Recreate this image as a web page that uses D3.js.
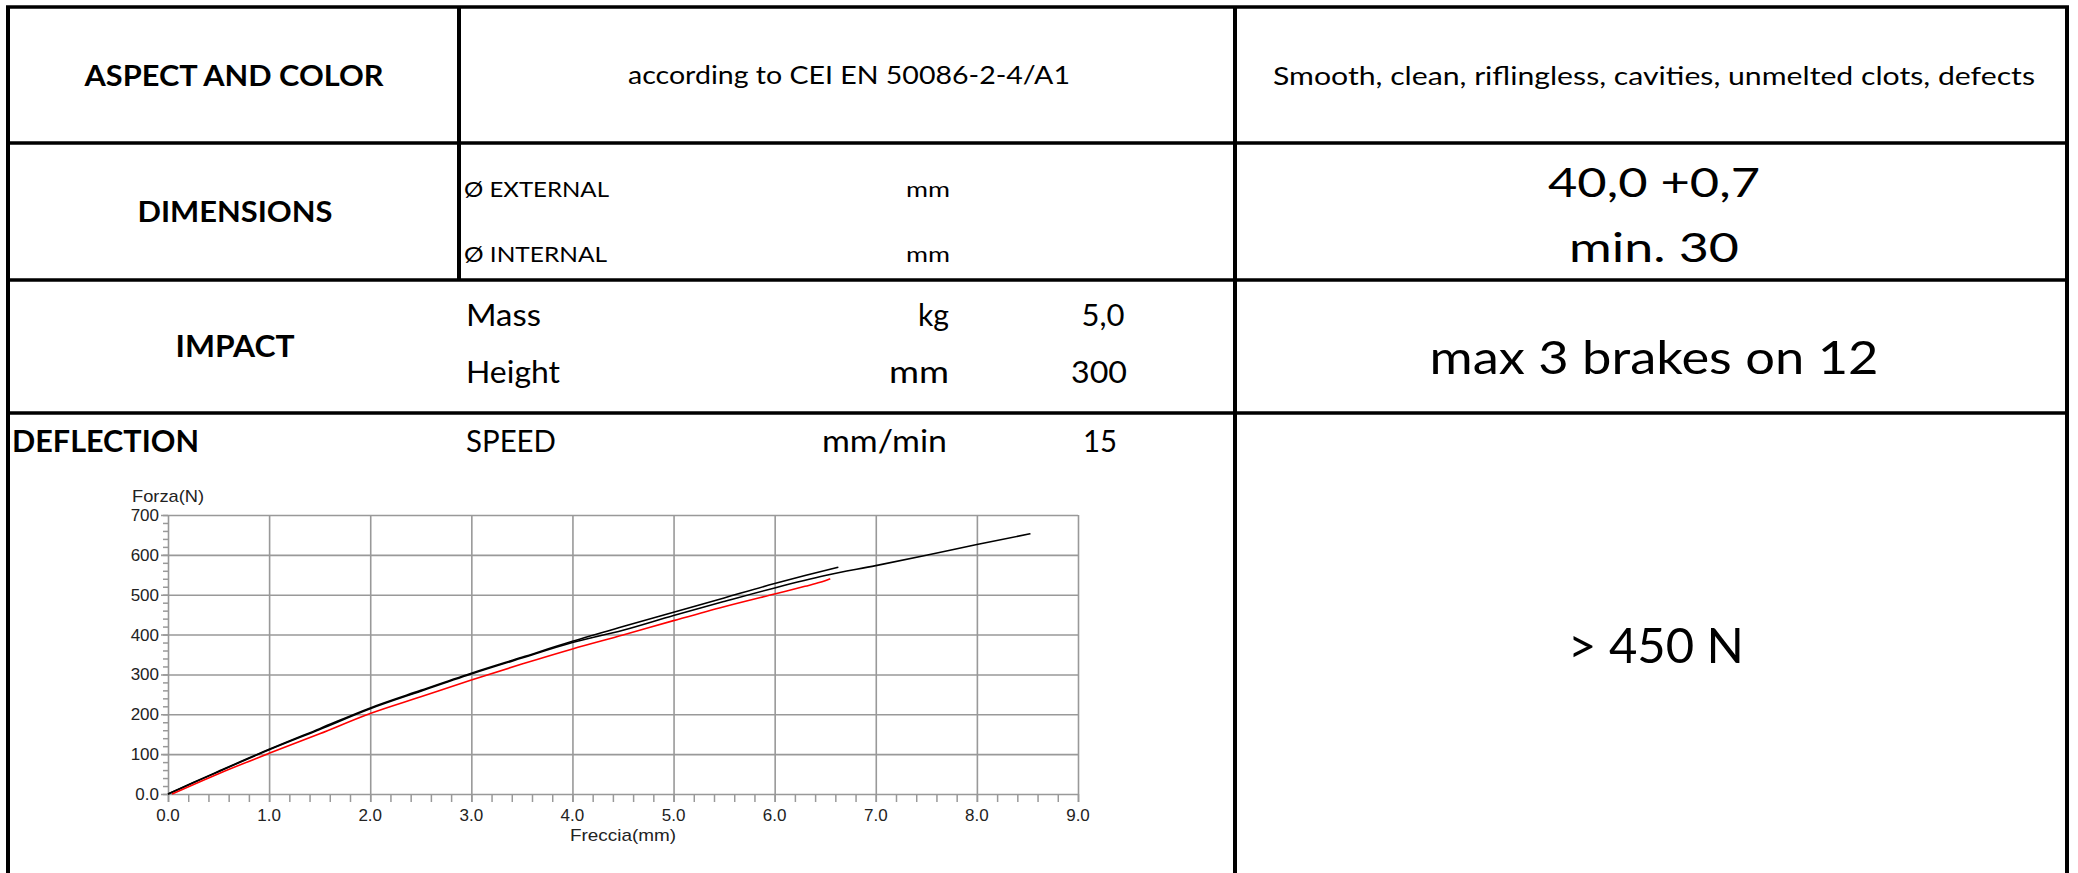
<!DOCTYPE html>
<html>
<head>
<meta charset="utf-8">
<script src="https://cdn.jsdelivr.net/npm/d3@7"></script>
<style>
	html, body { margin: 0; padding: 0; background: #fff; }
	svg { display: block; }
	.cell { font-family: Lato, "Carlito", "Open Sans", sans-serif; fill: #000; }
	.plot text { font-family: "Liberation Sans", Arial, sans-serif; fill: #222; font-size: 17px; }
</style>
</head>
<body>
<div id="sheet"></div>
<script>
/* Testi della tabella */
const sectionLabels = ["ASPECT AND COLOR", "DIMENSIONS", "IMPACT", "DEFLECTION"];
const aspectSpec = "according to CEI EN 50086-2-4/A1";
const paramNames = ["Ø EXTERNAL", "Ø INTERNAL", "Mass", "Height", "SPEED"];
const paramUnits = ["mm", "mm", "kg", "mm", "mm/min"];
const paramValues = ["", "", "5,0", "300", "15"];
const requirements = [
	"Smooth, clean, riflingless, cavities, unmelted clots, defects",
	"40,0 +0,7",
	"min. 30",
	"max 3 brakes on 12",
	"> 450 N"
];

/* Grafico Forza / Freccia */
const xLabel = "Freccia(mm)";
const yLabel = "Forza(N)";
const xTicks = [0, 1, 2, 3, 4, 5, 6, 7, 8, 9];
const yTicks = [0, 100, 200, 300, 400, 500, 600, 700];

const curveAx = [0, 0.25, 0.5, 1.0, 1.5, 2.0, 2.5, 3.0, 3.5, 4.0, 4.5, 5.0, 5.5, 6.0, 6.3, 6.63];
const curveAy = [0, 29, 57, 112, 164, 216, 260, 303, 343, 383, 420, 456, 492, 528, 548, 569];
const curveBx = [0, 0.25, 0.5, 1.0, 1.5, 2.0, 2.5, 3.0, 3.5, 4.0, 4.5, 5.0, 5.5, 6.0, 6.5, 7.0, 7.5, 8.0, 8.53];
const curveBy = [0, 28, 56, 111, 162, 214, 258, 301, 341, 380, 411, 448, 483, 517, 548, 573, 599, 626, 653];
const curveCx = [0.04, 0.5, 1.0, 1.5, 2.0, 2.5, 3.0, 3.5, 4.0, 4.5, 5.0, 5.5, 6.0, 6.3, 6.45, 6.55];
const curveCy = [0, 51, 102, 151, 202, 244, 286, 326, 364, 399, 435, 470, 502, 521, 531, 540];

const W = 2078, H = 873;
const svg = d3.select("#sheet").append("svg").attr("width", W).attr("height", H);
svg.append("rect").attr("width", W).attr("height", H).attr("fill", "#fff");

/* Griglia della tabella */
const T = { left: 8, right: 2067, rows: [7, 143, 280, 413], col1: 459, col2: 1235, bottom: 880 };
const grid = svg.append("g").attr("stroke", "#000");
T.rows.forEach(y => grid.append("line").attr("x1", T.left - 2).attr("x2", T.right + 2).attr("y1", y).attr("y2", y).attr("stroke-width", 3.5));
grid.append("line").attr("x1", T.left).attr("x2", T.left).attr("y1", T.rows[0]).attr("y2", T.bottom).attr("stroke-width", 4);
grid.append("line").attr("x1", T.right).attr("x2", T.right).attr("y1", T.rows[0]).attr("y2", T.bottom).attr("stroke-width", 4);
grid.append("line").attr("x1", T.col2).attr("x2", T.col2).attr("y1", T.rows[0]).attr("y2", T.bottom).attr("stroke-width", 4);
grid.append("line").attr("x1", T.col1).attr("x2", T.col1).attr("y1", T.rows[0]).attr("y2", T.rows[2]).attr("stroke-width", 4);

// testo, x, y (baseline), dimensione, grassetto, ancoraggio, larghezza
function cell(txt, x, y, size, bold, anchor, width) {
	const t = svg.append("text").attr("class", "cell")
		.attr("x", x).attr("y", y)
		.attr("font-size", size)
		.attr("font-weight", bold ? 700 : 400)
		.attr("text-anchor", anchor)
		.text(txt);
	if (width) t.attr("textLength", width).attr("lengthAdjust", "spacingAndGlyphs");
	return t;
}

cell(sectionLabels[0], 234, 86, 29, true, "middle", 299);
cell(aspectSpec, 849, 84, 25, false, "middle", 442);
cell(requirements[0], 1654, 85, 25, false, "middle", 762);

cell(sectionLabels[1], 235, 222, 29, true, "middle", 195);
cell(paramNames[0], 464, 197, 21, false, "start", 145);
cell(paramUnits[0], 906, 197, 21, false, "start", 44);
cell(paramNames[1], 464, 262, 21, false, "start", 143);
cell(paramUnits[1], 906, 262, 21, false, "start", 44);
cell(requirements[1], 1654, 197, 41, false, "middle", 212);
cell(requirements[2], 1654, 262, 41, false, "middle", 170);

cell(sectionLabels[2], 235, 357, 30, true, "middle", 119);
cell(paramNames[2], 466, 326, 31, false, "start", 75);
cell(paramUnits[2], 949, 326, 31, false, "end", 31);
cell(paramValues[2], 1103, 326, 31, false, "middle", 43);
cell(paramNames[3], 466, 383, 31, false, "start", 94);
cell(paramUnits[3], 949, 383, 31, false, "end", 60);
cell(paramValues[3], 1099, 383, 31, false, "middle", 56);
cell(requirements[3], 1654, 374, 46, false, "middle", 449);

cell(sectionLabels[3], 12, 452, 30, true, "start", 187);
cell(paramNames[4], 466, 452, 31, false, "start", 90);
cell(paramUnits[4], 947, 452, 31, false, "end", 125);
cell(paramValues[4], 1100, 452, 31, false, "middle", 34);
cell(requirements[4], 1656, 663, 49, false, "middle", 176);

/* Grafico */
const P = { left: 168, right: 1078, top: 515, bottom: 794 };
const x = d3.scaleLinear().domain([0, 9]).range([P.left, P.right]);
const y = d3.scaleLinear().domain([0, 700]).range([P.bottom, P.top]);
const plot = svg.append("g").attr("class", "plot");
const gridColor = "#999";

// tacche secondarie
plot.append("g")
	.attr("transform", `translate(0,${P.bottom})`)
	.call(d3.axisBottom(x).tickValues(d3.range(0, 9.01, 0.2)).tickSize(8).tickFormat(""))
	.call(g => g.select(".domain").remove())
	.call(g => g.selectAll("line").attr("stroke", gridColor).attr("stroke-width", 1.5));
plot.append("g")
	.attr("transform", `translate(${P.left},0)`)
	.call(d3.axisLeft(y).tickValues(d3.range(0, 701, 20)).tickSize(5).tickFormat(""))
	.call(g => g.select(".domain").remove())
	.call(g => g.selectAll("line").attr("stroke", gridColor).attr("stroke-width", 1.5));

// griglia principale
plot.append("g")
	.attr("transform", `translate(0,${P.bottom})`)
	.call(d3.axisBottom(x).tickValues(xTicks).tickSize(-(P.bottom - P.top)).tickSizeOuter(0).tickFormat(""))
	.call(g => g.select(".domain").remove())
	.call(g => g.selectAll("line").attr("stroke", gridColor).attr("stroke-width", 1.6).attr("y1", 8));
plot.append("g")
	.attr("transform", `translate(${P.left},0)`)
	.call(d3.axisLeft(y).tickValues(yTicks).tickSize(-(P.right - P.left)).tickSizeOuter(0).tickFormat(""))
	.call(g => g.select(".domain").remove())
	.call(g => g.selectAll("line").attr("stroke", gridColor).attr("stroke-width", 1.6).attr("x1", -7));

// etichette
plot.append("g").selectAll("text").data(xTicks).join("text")
	.attr("x", d => x(d)).attr("y", P.bottom + 27)
	.attr("text-anchor", "middle")
	.text(d => d3.format(".1f")(d));
plot.append("g").selectAll("text").data(yTicks).join("text")
	.attr("x", P.left - 9).attr("y", d => y(d) + 6)
	.attr("text-anchor", "end")
	.text(d => d === 0 ? "0.0" : d);
plot.append("text").attr("x", 132).attr("y", 502).attr("textLength", 72).attr("lengthAdjust", "spacingAndGlyphs").text(yLabel);
plot.append("text").attr("x", 570).attr("y", 841).attr("textLength", 106).attr("lengthAdjust", "spacingAndGlyphs").text(xLabel);

// curve
const line = d3.line().x(d => x(d[0])).y(d => y(d[1])).curve(d3.curveMonotoneX);
const series = [
	{ xs: curveAx, ys: curveAy, color: "#000" },
	{ xs: curveBx, ys: curveBy, color: "#000" },
	{ xs: curveCx, ys: curveCy, color: "#ff0000" }
];
plot.append("g").selectAll("path").data(series).join("path")
	.attr("d", s => line(s.xs.map((v, i) => [v, s.ys[i]])))
	.attr("fill", "none")
	.attr("stroke", s => s.color)
	.attr("stroke-width", 1.6);
</script>
</body>
</html>
